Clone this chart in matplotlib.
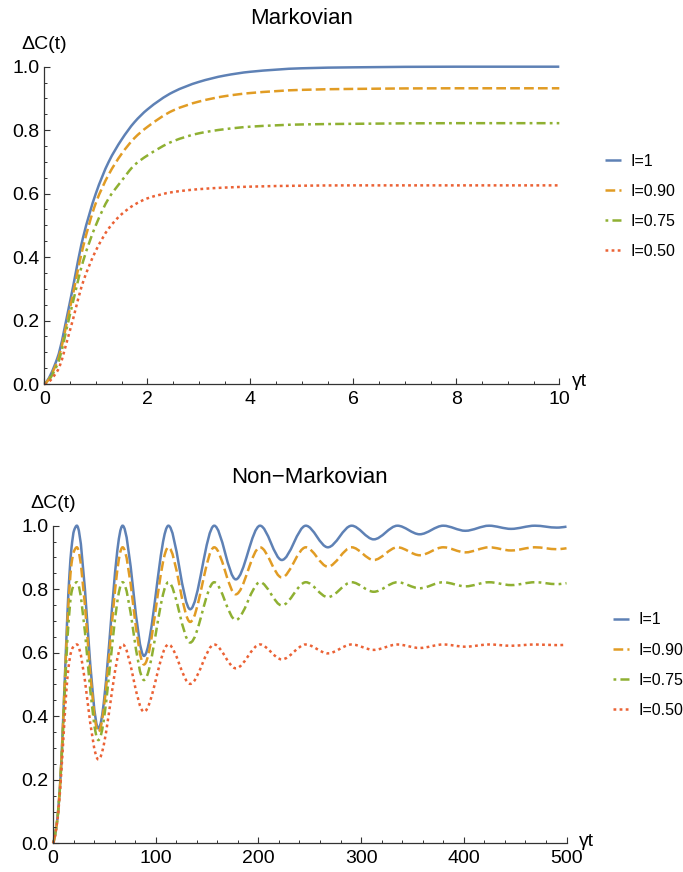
import numpy as np
import matplotlib
matplotlib.use('Agg')
import matplotlib.pyplot as plt
from matplotlib.path import Path
from matplotlib.patches import PathPatch
from matplotlib.lines import Line2D

plt.rcParams['font.family'] = ['Liberation Sans', 'DejaVu Sans']
plt.rcParams['lines.scale_dashes'] = False

# ---- data ----
labels = ['I=1', 'I=0.90', 'I=0.75', 'I=0.50']

# Markovian panel (x = gamma*t)
mk_t = [0, 0.25, 0.5, 0.75, 1.0, 1.25, 1.5, 1.75, 2.0, 2.5, 3.0, 3.5, 4.0, 5.0, 6.0, 8.0, 10.0]
mk_i100 = [0, 0.08, 0.26, 0.46, 0.60, 0.70, 0.77, 0.825, 0.865, 0.92, 0.952, 0.972, 0.984, 0.995, 0.998, 1.0, 1.0]
mk_i090 = [0, 0.07, 0.24, 0.43, 0.57, 0.66, 0.725, 0.775, 0.81, 0.862, 0.89, 0.907, 0.917, 0.927, 0.930, 0.932, 0.932]
mk_i075 = [0, 0.06, 0.22, 0.385, 0.50, 0.585, 0.64, 0.69, 0.72, 0.765, 0.79, 0.803, 0.811, 0.818, 0.820, 0.822, 0.822]
mk_i050 = [0, 0.04, 0.17, 0.32, 0.42, 0.49, 0.535, 0.565, 0.585, 0.605, 0.614, 0.619, 0.622, 0.625, 0.626, 0.626, 0.626]

# Non-Markovian panel: initial rise, then alternating peaks / troughs
nm_t = [0, 4, 7, 11.4, 14, 16, 18, 20.5, 23.2, 44.2, 67.8, 88.6, 112.4, 133.6, 157.0, 178.0,
        201.6, 222.8, 246.2, 267.6, 290.8, 312.3, 335.4, 357.0, 380.0, 401.5, 424.6, 446.0,
        469.2, 490.5, 500]
nm_i100 = [0, 0.07, 0.19, 0.51, 0.72, 0.845, 0.93, 0.985, 1.0,
           0.362, 1.0, 0.590, 1.0, 0.737, 1.0, 0.831, 1.0, 0.892, 1.0, 0.932, 1.0,
           0.957, 1.0, 0.973, 1.0, 0.984, 1.0, 0.990, 1.0, 0.994, 0.997]
nm_i090 = [0, 0.07, 0.19, 0.50, 0.69, 0.80, 0.88, 0.92, 0.932,
           0.350, 0.932, 0.563, 0.932, 0.697, 0.932, 0.784, 0.932, 0.837, 0.932, 0.871, 0.932,
           0.892, 0.932, 0.907, 0.932, 0.916, 0.932, 0.922, 0.932, 0.926, 0.929]
nm_i075 = [0, 0.07, 0.185, 0.47, 0.64, 0.73, 0.79, 0.815, 0.822,
           0.325, 0.822, 0.514, 0.822, 0.632, 0.822, 0.703, 0.822, 0.749, 0.822, 0.775, 0.822,
           0.792, 0.822, 0.803, 0.822, 0.809, 0.822, 0.813, 0.822, 0.816, 0.819]
nm_i050 = [0, 0.065, 0.17, 0.40, 0.52, 0.575, 0.607, 0.622, 0.626,
           0.264, 0.626, 0.414, 0.626, 0.502, 0.626, 0.551, 0.626, 0.579, 0.626, 0.598, 0.626,
           0.609, 0.626, 0.615, 0.626, 0.619, 0.626, 0.622, 0.626, 0.624, 0.625]

colors = ['#5E81B5', '#E19C24', '#8FB032', '#EB6235']
styles = ['-', (0, (7.0, 3.0)), (0, (2.0, 3.0, 6.5, 3.0)), (0, (2.0, 2.4))]
LW = 1.8


def end_slope(h0, h1, d0, d1):
    m = ((2 * h0 + h1) * d0 - h0 * d1) / (h0 + h1)
    if np.sign(m) != np.sign(d0):
        m = 0.0
    elif np.sign(d0) != np.sign(d1) and abs(m) > abs(3 * d0):
        m = 3 * d0
    return m


def smooth_path(x, y):
    """Monotone cubic through the read points, as a bezier Path."""
    x = np.asarray(x, float)
    y = np.asarray(y, float)
    h = np.diff(x)
    d = np.diff(y) / h
    n = len(x)
    m = np.zeros(n)
    for i in range(1, n - 1):
        if d[i - 1] * d[i] > 0:
            w1 = 2 * h[i] + h[i - 1]
            w2 = h[i] + 2 * h[i - 1]
            m[i] = (w1 + w2) / (w1 / d[i - 1] + w2 / d[i])
    m[0] = end_slope(h[0], h[1], d[0], d[1])
    m[-1] = end_slope(h[-1], h[-2], d[-1], d[-2])
    verts = [(x[0], y[0])]
    codes = [Path.MOVETO]
    for i in range(n - 1):
        verts += [(x[i] + h[i] / 3, y[i] + m[i] * h[i] / 3),
                  (x[i + 1] - h[i] / 3, y[i + 1] - m[i + 1] * h[i] / 3),
                  (x[i + 1], y[i + 1])]
        codes += [Path.CURVE4] * 3
    return Path(verts, codes)


def style_axes(ax, xmax, xmajor, xminor):
    for s in ['top', 'right']:
        ax.spines[s].set_visible(False)
    for s in ['left', 'bottom']:
        ax.spines[s].set_color('#333333')
        ax.spines[s].set_linewidth(0.9)
    ax.set_xlim(0, xmax)
    ax.set_ylim(0, 1.0)
    ax.set_xticks(np.arange(0, xmax + 0.001, xmajor))
    ax.set_xticks(np.arange(0, xmax + 0.001, xminor), minor=True)
    ax.set_yticks(np.arange(0, 1.001, 0.2))
    ax.set_yticks(np.arange(0, 1.001, 0.05), minor=True)
    ax.set_yticklabels([f'{v:.1f}' for v in np.arange(0, 1.001, 0.2)])
    ax.set_xticklabels([f'{v:g}' for v in np.arange(0, xmax + 0.001, xmajor)])
    ax.tick_params(which='both', direction='in', colors='#333333', labelcolor='black',
                   labelsize=14)
    ax.tick_params(which='major', length=4.2, width=0.8)
    ax.tick_params(which='minor', length=2.4, width=0.7)
    ax.tick_params(axis='y', pad=3.5)
    ax.tick_params(axis='x', pad=5)
    ax.set_facecolor('none')


def draw_panel(ax, t, series, title, xmax, xmajor, xminor, leg_anchor):
    style_axes(ax, xmax, xmajor, xminor)
    handles = []
    for vals, c, ls, lab in zip(series, colors, styles, labels):
        patch = PathPatch(smooth_path(t, vals), fill=False, edgecolor=c, lw=LW,
                          linestyle=ls, capstyle='butt', clip_on=False)
        ax.add_patch(patch)
        handles.append(Line2D([], [], color=c, lw=LW, linestyle=ls,
                              solid_capstyle='butt', dash_capstyle='butt', label=lab))
    ax.text(0.5, 1 + 48 / 317.3, title, transform=ax.transAxes,
            ha='center', va='center', fontsize=16)
    ax.text(0, 1 + 22.5 / 317.3, 'ΔC(t)', transform=ax.transAxes,
            ha='center', va='center', fontsize=14)
    ax.annotate('γt', xy=(xmax, 0), xycoords='data', xytext=(9, 1.5),
                textcoords='offset points', ha='left', va='center', fontsize=14)
    ax.legend(handles=handles, loc='upper left', bbox_to_anchor=leg_anchor,
              bbox_transform=fig.transFigure, frameon=False, fontsize=11.5,
              handlelength=1.0, handletextpad=0.6, labelspacing=0.94,
              borderpad=0, borderaxespad=0)


W, H = 683, 872
fig = plt.figure(figsize=(W / 100, H / 100), dpi=100)
ax1 = fig.add_axes([44.3 / W, 1 - 384 / H, 515 / W, 317.3 / H])
ax2 = fig.add_axes([53 / W, 1 - 843.3 / H, 513.5 / W, 317.6 / H])

draw_panel(ax1, mk_t, [mk_i100, mk_i090, mk_i075, mk_i050], 'Markovian',
           10, 2, 0.5, (605 / W, 1 - 154 / H))
draw_panel(ax2, nm_t, [nm_i100, nm_i090, nm_i075, nm_i050], 'Non\u2212Markovian',
           500, 100, 20, (613 / W, 1 - 612.5 / H))

fig.savefig('out.png', dpi=100)
